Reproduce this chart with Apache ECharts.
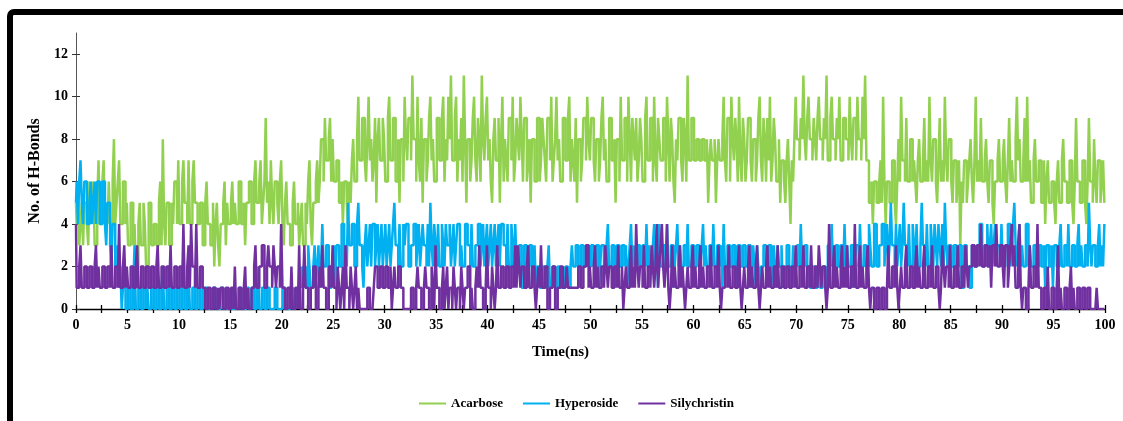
<!DOCTYPE html>
<html><head><meta charset="utf-8">
<script src="https://cdn.jsdelivr.net/npm/echarts@6/dist/echarts.min.js"></script>
<style>
html,body{margin:0;padding:0;background:#fff;overflow:hidden;width:1123px;height:421px;}
#chart{position:absolute;left:0;top:0;width:1123px;height:421px;}
#frame{position:absolute;left:7px;top:9px;width:1400px;height:700px;border:6px solid #000;border-radius:7px;box-sizing:border-box;pointer-events:none;}
</style></head><body>
<div id="chart"></div><div id="frame"></div>
<script>
// sampling step of the series (ns); 801 samples from 0 to 100 ns
const timeStep = 0.125;

const acarbose = [
5,4,6,3,4,5,3,5,5,4,3,6,4,5,6,3,3,5,7,4,4,6,7,4,5,4,6,4,4,6,8,4,5,6,7,4,4,6,6,4,
5,3,3,5,5,3,4,2,2,4,5,3,3,5,4,2,2,5,5,3,3,4,4,3,3,5,6,3,8,4,3,5,5,3,3,5,4,6,6,4,
7,4,4,6,7,5,5,4,7,4,4,6,7,5,5,4,4,5,5,3,3,5,6,4,4,3,3,5,2,4,5,3,2,4,4,5,6,3,5,4,
4,5,6,4,5,4,4,6,6,4,4,5,3,5,5,6,6,4,4,6,7,5,5,6,7,4,5,6,9,5,6,4,7,5,4,6,6,5,4,6,
7,4,3,5,6,4,4,3,3,5,6,4,4,5,3,4,5,3,3,5,4,6,7,4,3,5,5,6,7,5,6,8,8,6,9,7,7,8,9,6,
8,6,6,7,7,5,5,6,4,6,6,5,4,6,5,7,8,6,6,8,10,7,7,9,9,7,6,8,10,7,8,6,7,9,5,8,9,7,7,9,
8,6,6,9,10,7,7,9,9,6,6,8,5,8,8,6,10,8,7,9,9,7,11,8,8,6,10,7,6,9,5,8,8,6,7,9,10,7,8,6,
6,9,9,7,7,9,10,6,8,7,10,8,11,7,7,9,10,6,8,7,9,6,11,8,5,8,8,6,7,9,10,7,6,9,8,6,11,8,7,9,
10,7,8,6,5,8,9,7,7,9,5,8,10,6,8,7,6,9,9,7,10,6,7,9,8,7,10,8,6,9,9,6,7,8,5,8,8,6,6,9,
9,6,7,9,8,7,6,9,9,7,10,6,7,8,10,7,8,6,6,9,9,7,7,9,10,6,8,7,6,9,5,8,8,6,7,9,9,7,10,8,
7,9,9,7,6,8,8,6,7,9,10,7,8,6,6,9,9,7,7,8,5,8,8,6,10,7,7,9,9,6,10,8,6,9,8,7,9,6,7,9,
8,6,6,9,10,7,7,9,9,6,10,7,6,9,8,7,7,9,9,6,10,8,6,9,8,6,5,8,7,9,9,7,6,9,8,6,11,7,7,9,
9,7,7,8,8,7,7,8,8,7,7,8,5,7,8,7,7,8,5,7,8,7,7,8,10,7,6,9,9,6,10,8,7,9,8,6,10,7,6,9,
8,6,7,9,9,7,6,8,8,6,7,9,10,7,6,9,8,6,9,7,10,6,7,9,8,6,6,8,5,7,7,6,5,7,8,6,4,7,6,8,
10,8,8,7,9,8,11,8,7,9,10,8,8,7,9,8,7,9,10,8,8,7,9,8,11,7,7,9,10,8,8,7,9,8,10,7,7,9,9,8,
8,7,10,8,7,9,9,7,10,8,8,7,10,8,11,7,7,5,5,6,4,6,6,5,5,6,7,5,10,6,4,6,6,5,5,7,7,5,4,6,
8,6,10,7,7,6,9,6,6,8,8,6,7,6,5,7,8,6,6,7,9,6,7,6,10,7,6,8,8,6,5,7,9,6,7,6,10,7,6,8,
8,6,5,7,7,5,6,7,3,6,5,7,7,5,6,7,8,6,5,7,10,6,7,6,9,6,6,7,8,6,5,7,7,5,4,6,6,7,8,6,
6,7,8,6,5,7,9,6,7,6,6,8,10,7,8,6,6,7,9,6,10,6,7,5,5,7,8,6,6,7,7,5,5,7,4,6,7,5,5,6,
6,5,4,6,7,5,5,7,8,6,6,5,5,7,7,5,4,6,9,6,6,5,5,7,7,5,4,6,9,6,6,5,8,6,5,7,7,5,6,7,
5];

const hyperoside = [
5,6,4,6,7,5,4,6,6,4,4,5,6,4,5,6,4,6,6,4,4,6,6,4,3,5,5,3,2,4,4,2,2,3,1,2,0,1,1,0,
0,1,1,0,0,1,3,0,0,1,1,0,0,1,1,0,1,0,0,1,1,0,0,1,1,0,0,1,2,0,0,1,1,0,0,1,1,0,0,1,
1,0,0,1,1,0,0,1,2,0,0,1,1,0,0,1,1,0,0,1,0,1,1,0,0,0,0,1,1,0,0,0,0,1,1,0,0,0,0,1,
0,0,1,0,0,0,0,1,1,0,0,0,0,1,1,0,0,1,1,0,0,1,2,0,0,1,1,0,0,1,1,0,0,0,0,1,1,0,0,0,
0,1,1,0,0,0,0,1,1,0,0,1,0,1,1,2,1,2,2,1,1,3,2,1,1,2,3,1,2,3,1,2,4,2,2,3,3,1,1,2,
2,3,1,3,3,2,2,4,4,2,3,2,5,3,3,4,4,2,2,4,5,3,3,2,1,3,4,2,3,4,2,4,4,2,3,4,2,3,4,2,
3,4,2,3,4,2,3,4,5,3,3,2,4,2,2,4,3,4,4,2,2,3,3,4,4,2,3,4,2,3,4,3,3,2,4,2,5,3,2,4,
3,2,4,2,2,4,3,2,4,3,3,4,2,3,4,2,3,4,4,2,3,2,2,4,4,3,3,2,4,2,2,3,3,4,4,2,3,4,2,3,
4,2,3,4,2,3,4,2,3,4,2,4,4,3,3,2,4,2,2,4,3,2,4,2,2,3,3,1,1,3,3,2,2,3,3,1,2,3,1,2,
2,1,1,2,2,1,1,2,3,1,1,2,2,1,1,2,2,1,1,2,1,2,2,1,1,2,3,2,2,3,3,2,2,3,3,2,2,3,3,2,
2,3,3,2,2,3,3,1,2,3,3,2,2,3,4,2,2,3,3,1,2,3,3,2,2,3,3,2,3,1,2,3,4,2,3,2,2,3,3,2,
2,3,3,2,4,2,3,2,2,3,4,2,3,1,4,2,2,3,3,2,4,2,2,3,3,1,2,3,4,2,3,2,2,3,3,2,4,2,2,3,
3,2,2,3,3,1,2,3,4,2,3,2,2,3,3,2,4,2,2,3,3,2,3,1,4,2,2,3,3,2,2,3,3,1,2,3,3,2,2,3,
3,2,2,3,3,1,2,3,2,1,3,2,1,2,2,3,3,2,2,3,3,1,2,3,2,1,3,2,2,3,1,2,2,3,3,2,2,1,3,2,
2,3,3,2,4,2,2,3,3,2,2,1,1,2,2,1,1,2,2,1,1,2,2,1,1,3,3,2,4,2,2,3,3,2,2,3,3,2,4,2,
3,2,2,3,3,1,2,3,3,2,4,2,2,3,3,2,2,4,3,2,2,4,4,2,2,3,3,4,4,2,3,4,2,3,5,3,3,2,4,2,
3,4,2,3,5,3,3,2,4,2,2,4,3,2,4,2,2,3,5,3,3,2,4,2,2,4,3,2,4,3,2,4,3,2,4,2,5,3,2,3,
3,2,2,3,3,2,2,3,3,1,1,3,3,2,2,1,1,3,3,2,2,3,3,4,4,2,2,3,3,4,2,3,4,2,3,4,2,3,3,2,
4,2,2,3,3,4,4,2,3,4,5,3,2,3,4,2,3,2,2,4,4,2,3,2,2,3,3,2,2,3,3,2,2,3,1,3,3,2,2,3,
1,3,3,2,2,3,4,2,2,3,3,2,4,2,2,3,3,2,2,3,4,2,3,2,2,3,3,2,5,3,2,3,3,2,2,3,4,2,3,2,
4];

const silychristin = [
4,1,1,2,3,1,1,2,2,1,1,2,2,1,1,2,3,1,2,1,1,2,2,1,1,2,2,1,3,1,1,2,2,1,4,1,1,2,3,1,
2,1,1,2,2,1,1,2,3,1,1,2,2,1,1,2,2,1,1,2,2,1,1,2,3,1,1,2,2,1,1,2,2,1,3,1,1,2,2,1,
1,2,2,1,4,1,1,2,3,1,4,2,2,1,4,1,1,2,2,1,1,0,0,1,1,0,0,1,1,0,0,1,0,1,1,0,0,1,1,0,
0,1,1,0,2,0,0,1,1,0,0,1,2,0,1,0,0,1,1,2,3,1,1,2,2,3,3,1,1,2,3,2,2,1,3,2,1,2,2,1,
4,1,1,0,0,1,1,0,2,0,0,1,1,0,3,0,0,1,3,1,1,0,0,1,1,2,2,0,0,1,2,1,3,1,1,0,0,2,2,1,
3,1,1,0,2,1,0,1,2,0,3,1,1,0,2,1,0,1,2,0,1,0,0,0,0,0,0,1,1,0,0,0,1,2,2,1,1,2,2,1,
1,2,2,1,1,2,0,1,2,1,1,2,2,1,1,0,0,0,0,0,0,1,1,0,0,1,2,1,1,0,0,1,2,1,1,0,0,2,1,0,
3,1,1,0,0,1,2,0,1,2,0,1,1,0,2,1,0,1,1,0,2,1,0,1,1,2,2,0,1,0,0,1,2,1,3,1,1,0,0,1,
3,1,1,0,2,1,0,1,3,1,1,2,2,1,1,2,2,1,1,2,2,1,3,1,3,2,1,2,2,1,1,2,3,1,1,2,2,1,0,1,
2,1,3,1,1,2,2,0,0,1,1,2,2,0,0,1,1,2,2,1,1,1,2,1,1,1,1,1,1,1,1,2,2,1,1,2,2,3,3,1,
2,1,1,2,3,1,2,1,1,2,2,1,3,2,1,2,2,1,1,2,2,1,3,1,1,2,0,1,2,1,1,2,3,1,2,1,4,2,1,2,
2,1,3,1,1,2,2,1,3,2,1,2,4,1,2,3,4,2,1,2,4,1,0,1,3,1,2,1,1,2,3,1,2,1,0,1,2,1,1,2,
3,1,2,1,1,2,3,1,2,1,1,2,2,1,3,1,1,2,2,1,3,1,0,1,1,2,2,1,3,1,1,2,2,1,1,2,3,1,0,1,
2,1,1,2,3,1,2,1,1,2,3,1,0,1,2,1,1,2,3,1,2,1,1,2,2,1,3,1,1,2,2,1,1,2,2,1,1,2,2,1,
3,1,1,2,2,1,3,1,1,2,2,1,3,1,1,2,2,1,3,2,1,2,2,1,0,1,4,1,1,2,3,1,2,1,1,2,3,1,2,1,
3,1,1,2,2,1,4,1,1,2,3,1,2,1,1,2,3,1,0,1,1,0,0,1,1,0,0,1,1,0,0,1,3,1,1,2,2,1,3,1,
0,1,2,1,1,2,3,1,1,2,2,1,1,2,3,1,2,1,1,2,3,1,1,2,2,1,3,1,1,2,2,1,0,1,3,2,1,2,2,1,
3,1,1,2,2,1,3,1,1,2,2,1,3,2,1,2,2,3,3,2,2,3,3,2,4,2,2,3,3,2,2,3,1,3,3,2,4,2,2,3,
3,2,1,3,3,1,2,3,4,2,3,1,1,3,4,1,0,1,1,0,0,1,3,1,1,2,2,1,4,1,1,0,0,1,1,0,2,0,0,1,
1,0,0,1,3,0,1,0,0,1,1,0,0,1,2,0,1,0,0,1,1,0,0,1,1,0,0,1,1,0,0,0,0,0,1,0,0,0,0,0,
0];

const seriesNames = ['Acarbose', 'Hyperoside', 'Silychristin'];
const seriesColors = ['#92D050', '#00B0F0', '#7030A0'];
const xTickValues = [0,2.5,5,7.5,10,12.5,15,17.5,20,22.5,25,27.5,30,32.5,35,37.5,40,42.5,45,47.5,50,52.5,55,57.5,60,62.5,65,67.5,70,72.5,75,77.5,80,82.5,85,87.5,90,92.5,95,97.5,100];
const xLabelValues = [0,5,10,15,20,25,30,35,40,45,50,55,60,65,70,75,80,85,90,95,100];
const yTickValues = [0,2,4,6,8,10,12];

const FONT = '"Liberation Serif", "Times New Roman", serif';

function toPairs(arr) {
  return arr.map((v, i) => [i * timeStep, v]);
}

const chart = echarts.init(document.getElementById('chart'), null, {renderer: 'canvas'});

const txt = {fontFamily: FONT, fontWeight: 'bold', color: '#000'};

chart.setOption({
  animation: false,
  backgroundColor: 'transparent',
  grid: {left: 76, right: 18, top: 33, bottom: 112},
  legend: {
    data: seriesNames,
    left: 414, top: 392,
    icon: 'rect', itemWidth: 27, itemHeight: 2, itemGap: 20,
    textStyle: Object.assign({fontSize: 13}, txt)
  },
  xAxis: [{
    type: 'value', min: 0, max: 100, position: 'bottom',
    axisLine: {lineStyle: {color: '#000', width: 1.3}},
    axisTick: {customValues: xTickValues, length: 4, lineStyle: {color: '#000', width: 1.3}},
    axisLabel: Object.assign({customValues: xLabelValues, fontSize: 14, margin: 9}, txt),
    splitLine: {show: false},
    name: 'Time(ns)', nameLocation: 'middle', nameGap: 36,
    nameTextStyle: Object.assign({fontSize: 15, padding: [0, 60, 0, 0]}, txt)
  }, {
    type: 'value', min: 0, max: 100, position: 'bottom',
    axisLine: {show: false},
    axisTick: {customValues: xTickValues, inside: true, length: 4, lineStyle: {color: '#000', width: 1.3}},
    axisLabel: {show: false},
    splitLine: {show: false}
  }],
  yAxis: [{
    type: 'value', min: 0, max: 13, position: 'left',
    axisLine: {show: true, lineStyle: {color: '#555', width: 1}},
    axisTick: {show: true, customValues: yTickValues, length: 4, lineStyle: {color: '#333', width: 1}},
    axisLabel: Object.assign({customValues: yTickValues, fontSize: 14, margin: 8}, txt),
    splitLine: {show: false},
    name: 'No. of H-Bonds', nameLocation: 'middle', nameGap: 24,
    nameTextStyle: Object.assign({fontSize: 16}, txt)
  }, {
    type: 'value', min: 0, max: 13, position: 'left',
    axisLine: {show: false},
    axisTick: {show: true, customValues: yTickValues, inside: true, length: 4, lineStyle: {color: '#333', width: 1}},
    axisLabel: {show: false},
    splitLine: {show: false}
  }],
  series: [acarbose, hyperoside, silychristin].map((arr, k) => ({
    name: seriesNames[k],
    type: 'line',
    step: 'middle',
    xAxisIndex: 0, yAxisIndex: 0,
    data: toPairs(arr),
    showSymbol: false,
    symbol: 'none',
    sampling: null,
    large: false,
    color: seriesColors[k],
    lineStyle: {color: seriesColors[k], width: 2.5},
    emphasis: {disabled: true}
  }))
});
</script>
</body></html>
